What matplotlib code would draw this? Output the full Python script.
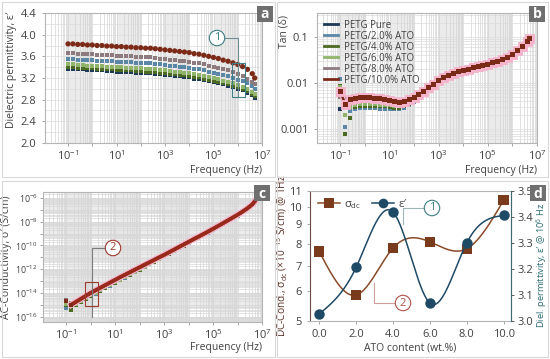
import numpy as np
import matplotlib
matplotlib.use('Agg')
import matplotlib.pyplot as plt
import matplotlib.patheffects as pe
from matplotlib.ticker import FixedLocator, FuncFormatter, LogLocator, NullFormatter, NullLocator
from matplotlib.patches import Rectangle
from matplotlib.lines import Line2D

plt.rcParams['font.family'] = ['Open Sans', 'DejaVu Sans']
plt.rcParams['mathtext.fontset'] = 'custom'
plt.rcParams['mathtext.rm'] = 'Open Sans'
plt.rcParams['mathtext.it'] = 'Open Sans:italic'
plt.rcParams['mathtext.default'] = 'regular'

# ---- data -------------------------------------------------------------
freq = [0.1, 0.158, 0.251, 0.398, 0.631, 1.0, 1.58, 2.51, 3.98, 6.31,
        10, 15.8, 25.1, 39.8, 63.1, 100, 158, 251, 398, 631,
        1e3, 1.58e3, 2.51e3, 3.98e3, 6.31e3, 1e4, 1.58e4, 2.51e4, 3.98e4, 6.31e4,
        1e5, 1.58e5, 2.51e5, 3.98e5, 6.31e5, 1e6, 1.58e6, 2.51e6, 3.98e6, 5.0e6]

labels = ['PETG Pure', 'PETG/2.0% ATO', 'PETG/4.0% ATO',
          'PETG/6.0% ATO', 'PETG/8.0% ATO', 'PETG/10.0% ATO']
colors = ['#1d3a56', '#5b87a6', '#4d6a22', '#8fb46a', '#8d7b80', '#7c2a18']

# dielectric permittivity eps'
eps_0 = [3.37, 3.37, 3.36, 3.36, 3.35, 3.35, 3.34, 3.34, 3.33, 3.33, 3.32, 3.32, 3.31, 3.31, 3.30, 3.30, 3.29, 3.29, 3.28, 3.27,
         3.26, 3.25, 3.24, 3.23, 3.22, 3.21, 3.19, 3.18, 3.16, 3.14, 3.12, 3.10, 3.08, 3.05, 3.03, 3.00, 2.97, 2.93, 2.89, 2.84]
eps_2 = [3.55, 3.55, 3.54, 3.54, 3.53, 3.53, 3.52, 3.52, 3.51, 3.51, 3.50, 3.50, 3.49, 3.49, 3.48, 3.48, 3.47, 3.47, 3.46, 3.45,
         3.44, 3.43, 3.42, 3.41, 3.40, 3.39, 3.37, 3.36, 3.34, 3.32, 3.30, 3.28, 3.25, 3.23, 3.20, 3.17, 3.14, 3.10, 3.05, 3.00]
eps_4 = [3.40, 3.40, 3.39, 3.39, 3.38, 3.38, 3.37, 3.37, 3.36, 3.36, 3.35, 3.35, 3.34, 3.34, 3.33, 3.33, 3.32, 3.32, 3.31, 3.30,
         3.29, 3.28, 3.27, 3.26, 3.25, 3.24, 3.22, 3.21, 3.19, 3.17, 3.15, 3.13, 3.11, 3.08, 3.06, 3.03, 3.00, 2.96, 2.91, 2.86]
eps_6 = [3.45, 3.45, 3.44, 3.44, 3.43, 3.43, 3.42, 3.42, 3.41, 3.41, 3.40, 3.40, 3.39, 3.39, 3.38, 3.38, 3.37, 3.37, 3.36, 3.35,
         3.34, 3.33, 3.32, 3.31, 3.30, 3.29, 3.27, 3.26, 3.24, 3.22, 3.20, 3.18, 3.15, 3.13, 3.10, 3.07, 3.04, 3.00, 2.95, 2.90]
eps_8 = [3.66, 3.66, 3.65, 3.65, 3.64, 3.64, 3.63, 3.63, 3.62, 3.62, 3.61, 3.61, 3.60, 3.60, 3.59, 3.59, 3.58, 3.58, 3.57, 3.56,
         3.55, 3.54, 3.53, 3.52, 3.51, 3.50, 3.48, 3.47, 3.45, 3.43, 3.41, 3.39, 3.36, 3.34, 3.31, 3.28, 3.24, 3.19, 3.13, 3.08]
eps_10 = [3.83, 3.83, 3.82, 3.82, 3.81, 3.81, 3.80, 3.80, 3.79, 3.79, 3.78, 3.78, 3.77, 3.77, 3.76, 3.76, 3.75, 3.75, 3.74, 3.73,
          3.72, 3.71, 3.70, 3.69, 3.68, 3.67, 3.65, 3.64, 3.62, 3.60, 3.58, 3.56, 3.53, 3.51, 3.48, 3.45, 3.41, 3.36, 3.28, 3.20]

# loss tangent
tan_0 = [0.0027, 0.0045, 0.0031, 0.0032, 0.0033, 0.0033, 0.0033, 0.0032, 0.0032, 0.0031, 0.0030, 0.0029, 0.0029, 0.0030, 0.0034,
         0.0040, 0.0048, 0.0059, 0.0071, 0.0086, 0.0104, 0.0122, 0.0140, 0.0155, 0.0168, 0.0180, 0.0191, 0.0204, 0.0218, 0.0234,
         0.0250, 0.0268, 0.0288, 0.0314, 0.0349, 0.0399, 0.0486, 0.0613, 0.0779, 0.0899]
tan_2 = [0.0125, 0.0011, 0.0025, 0.0028, 0.0029, 0.0029, 0.0029, 0.0029, 0.0028, 0.0028, 0.0027, 0.0027, 0.0027, 0.0029, 0.0033,
         0.0039, 0.0047, 0.0058, 0.0070, 0.0085, 0.0103, 0.0121, 0.0139, 0.0154, 0.0167, 0.0179, 0.0190, 0.0203, 0.0217, 0.0233,
         0.0249, 0.0267, 0.0287, 0.0313, 0.0348, 0.0398, 0.0485, 0.0612, 0.0778, 0.0898]
tan_4 = [0.0085, 0.00078, 0.0017, 0.0030, 0.0032, 0.0032, 0.0032, 0.0032, 0.0031, 0.0031, 0.0030, 0.0029, 0.0029, 0.0031, 0.0035,
         0.0041, 0.0049, 0.0060, 0.0072, 0.0087, 0.0105, 0.0123, 0.0141, 0.0156, 0.0169, 0.0181, 0.0192, 0.0205, 0.0219, 0.0235,
         0.0251, 0.0269, 0.0289, 0.0315, 0.0350, 0.0400, 0.0488, 0.0615, 0.0780, 0.0900]
tan_6 = [0.0080, 0.0020, 0.0030, 0.0034, 0.0035, 0.0035, 0.0035, 0.0035, 0.0034, 0.0034, 0.0033, 0.0032, 0.0031, 0.0033, 0.0037,
         0.0043, 0.0051, 0.0062, 0.0074, 0.0089, 0.0107, 0.0125, 0.0143, 0.0158, 0.0171, 0.0183, 0.0194, 0.0207, 0.0221, 0.0237,
         0.0253, 0.0271, 0.0291, 0.0317, 0.0352, 0.0402, 0.0490, 0.0620, 0.0785, 0.0905]
tan_8 = [0.0050, 0.0045, 0.0043, 0.0042, 0.0042, 0.0042, 0.0042, 0.0041, 0.0040, 0.0039, 0.0037, 0.0035, 0.0034, 0.0035, 0.0040,
         0.0046, 0.0054, 0.0064, 0.0076, 0.0091, 0.0109, 0.0127, 0.0145, 0.0160, 0.0173, 0.0185, 0.0196, 0.0209, 0.0223, 0.0239,
         0.0255, 0.0273, 0.0293, 0.0319, 0.0355, 0.0405, 0.0495, 0.0625, 0.0790, 0.0910]
tan_10 = [0.0065, 0.0035, 0.0045, 0.0047, 0.0048, 0.0048, 0.0048, 0.0047, 0.0046, 0.0044, 0.0042, 0.0039, 0.0038, 0.0039, 0.0043,
          0.0049, 0.0057, 0.0067, 0.0079, 0.0094, 0.0112, 0.0130, 0.0148, 0.0163, 0.0176, 0.0188, 0.0199, 0.0212, 0.0226, 0.0242,
          0.0258, 0.0276, 0.0296, 0.0322, 0.0358, 0.0410, 0.0500, 0.0630, 0.0800, 0.0920]

# AC conductivity, log10(S/cm)
sig_0 = [-15.1, -15.2, -14.98, -14.76, -14.52, -14.27, -14.04, -13.82, -13.6, -13.37, -13.15, -12.93, -12.71, -12.49, -12.27,
         -12.04, -11.81, -11.59, -11.37, -11.15, -10.93, -10.7, -10.47, -10.24, -10.02, -9.8, -9.58, -9.36, -9.14, -8.92,
         -8.69, -8.46, -8.22, -7.98, -7.73, -7.48, -7.22, -6.94, -6.61, -6.36]
sig_2 = [-15.3, -15.3, -15.0, -14.78, -14.53, -14.28, -14.05, -13.83, -13.6, -13.38, -13.16, -12.94, -12.72, -12.5, -12.27,
         -12.04, -11.81, -11.59, -11.37, -11.15, -10.93, -10.7, -10.47, -10.24, -10.02, -9.8, -9.58, -9.36, -9.14, -8.92,
         -8.69, -8.46, -8.22, -7.98, -7.73, -7.48, -7.22, -6.94, -6.61, -6.36]
sig_4 = [-15.0, -15.4, -15.05, -14.75, -14.5, -14.25, -14.03, -13.8, -13.58, -13.36, -13.14, -12.92, -12.7, -12.48, -12.26,
         -12.03, -11.8, -11.58, -11.36, -11.14, -10.92, -10.69, -10.46, -10.23, -10.01, -9.79, -9.57, -9.35, -9.13, -8.91,
         -8.68, -8.45, -8.21, -7.97, -7.72, -7.47, -7.21, -6.93, -6.6, -6.35]
sig_6 = [-14.9, -15.1, -14.95, -14.7, -14.45, -14.2, -13.98, -13.76, -13.54, -13.32, -13.1, -12.88, -12.66, -12.44, -12.22,
         -12.0, -11.78, -11.56, -11.34, -11.12, -10.9, -10.67, -10.45, -10.22, -10.0, -9.78, -9.56, -9.34, -9.12, -8.9,
         -8.67, -8.44, -8.2, -7.96, -7.71, -7.46, -7.2, -6.92, -6.59, -6.34]
sig_8 = [-14.6, -14.85, -14.8, -14.58, -14.33, -14.08, -13.86, -13.64, -13.42, -13.2, -12.98, -12.76, -12.55, -12.34, -12.12,
         -11.9, -11.69, -11.48, -11.26, -11.05, -10.84, -10.62, -10.4, -10.18, -9.96, -9.74, -9.52, -9.3, -9.08, -8.86,
         -8.63, -8.4, -8.16, -7.92, -7.68, -7.44, -7.18, -6.9, -6.57, -6.32]
sig_10 = [-14.7, -15.0, -14.75, -14.5, -14.25, -14.0, -13.78, -13.56, -13.34, -13.12, -12.9, -12.68, -12.47, -12.26, -12.05,
          -11.84, -11.63, -11.42, -11.21, -11.0, -10.8, -10.58, -10.36, -10.14, -9.92, -9.7, -9.48, -9.27, -9.05, -8.83,
          -8.6, -8.37, -8.14, -7.9, -7.66, -7.42, -7.16, -6.88, -6.55, -6.3]

# panel d
ato = [0.0, 2.0, 4.0, 6.0, 8.0, 10.0]
sigma_dc = [7.62, 5.85, 7.78, 8.08, 7.75, 10.4]
eps_1MHz = [3.027, 3.206, 3.419, 3.069, 3.30, 3.406]

eps_all = [eps_0, eps_2, eps_4, eps_6, eps_8, eps_10]
tan_all = [tan_0, tan_2, tan_4, tan_6, tan_8, tan_10]
sig_all = [sig_0, sig_2, sig_4, sig_6, sig_8, sig_10]

W, H = 550, 359
TXT = '#404040'
SPINE = '#b5b5b5'
PINK = '#f6b3cc'


def spline(x, y, n=300):
    # natural cubic spline for the smooth connecting curves of panel d
    x = np.asarray(x, float)
    y = np.asarray(y, float)
    h = np.diff(x)
    m = len(x)
    A = np.zeros((m, m))
    r = np.zeros(m)
    A[0, 0] = A[-1, -1] = 1
    for i in range(1, m - 1):
        A[i, i - 1] = h[i - 1]
        A[i, i] = 2 * (h[i - 1] + h[i])
        A[i, i + 1] = h[i]
        r[i] = 6 * ((y[i + 1] - y[i]) / h[i] - (y[i] - y[i - 1]) / h[i - 1])
    M = np.linalg.solve(A, r)
    xs = np.linspace(x[0], x[-1], n)
    k = np.clip(np.searchsorted(x, xs) - 1, 0, m - 2)
    t1 = x[k + 1] - xs
    t0 = xs - x[k]
    ys = (M[k] * t1 ** 3 + M[k + 1] * t0 ** 3) / (6 * h[k]) \
        + (y[k] / h[k] - M[k] * h[k] / 6) * t1 + (y[k + 1] / h[k] - M[k + 1] * h[k] / 6) * t0
    return xs, ys


fig = plt.figure(figsize=(5.5, 3.59), dpi=100)

ax_a = fig.add_axes([45 / W, 1 - 143 / H, 217 / W, 130 / H])
ax_b = fig.add_axes([317 / W, 1 - 143 / H, 220 / W, 130 / H])
ax_c = fig.add_axes([43 / W, 1 - 322 / H, 219 / W, 130 / H])
ax_d = fig.add_axes([310 / W, 1 - 321 / H, 201 / W, 130 / H])


def style(ax):
    for s in ax.spines.values():
        s.set_color(SPINE)
        s.set_linewidth(0.8)
    ax.tick_params(labelsize=8, colors=TXT, length=2.5, width=0.6)
    ax.tick_params(which='both', color='#999999')
    ax.set_axisbelow(True)


def freq_axis(ax, label_y):
    ax.set_xscale('log')
    ax.set_xlim(10 ** -1.95, 1e7)
    ax.xaxis.set_major_locator(FixedLocator(10.0 ** np.arange(-1, 8)))
    ax.xaxis.set_major_formatter(FuncFormatter(
        lambda v, p: '$10^{%d}$' % round(np.log10(v)) if round(np.log10(v)) % 2 else ''))
    ax.xaxis.set_minor_locator(LogLocator(base=10, subs=np.arange(2, 10), numticks=100))
    ax.xaxis.set_minor_formatter(NullFormatter())
    ax.tick_params(axis='x', which='minor', length=0)
    for k in (-1, 1, 3, 5):
        ax.axvspan(10.0 ** k, 10.0 ** (k + 1), color='#ebebeb', lw=0, zorder=0)
    ax.grid(True, which='both', axis='x', color='#d4d4d4', lw=0.5)
    style(ax)
    ax.tick_params(axis='x', which='major', pad=2)
    ax.set_xlabel('Frequency (Hz)', loc='right', fontsize=7.5, color=TXT)
    ax.xaxis.set_label_coords(1.0, label_y)


# ---- a: permittivity --------------------------------------------------
freq_axis(ax_a, -0.17)
ax_a.set_ylim(2.0, 4.4)
ax_a.yaxis.set_major_locator(FixedLocator(np.arange(2.0, 4.41, 0.4)))
ax_a.yaxis.set_major_formatter(FuncFormatter(lambda v, p: '%.1f' % v))
ax_a.yaxis.set_minor_locator(FixedLocator(np.arange(2.2, 4.4, 0.4)))
ax_a.tick_params(axis='y', which='minor', length=0)
ax_a.grid(True, which='both', axis='y', color='#dcdcdc', lw=0.5)
for i, (vals, c) in enumerate(zip(eps_all, colors)):
    if i == 5:
        ax_a.plot(freq, vals, 'o', color=c, ms=3.8, mew=0, zorder=4,
                  path_effects=[pe.SimpleLineShadow(offset=(0, -4), shadow_color=PINK, alpha=0.9, rho=1),
                                pe.Normal()])
    else:
        ax_a.plot(freq, vals, 's', color=c, ms=3.3, mew=0, zorder=3)
ax_a.set_ylabel("Dielectric permittivity, ε′", fontsize=7.5, color=TXT)
ax_a.yaxis.set_label_coords(-0.13, 0.56)

# ---- b: tan delta -----------------------------------------------------
freq_axis(ax_b, -0.17)
ax_b.set_yscale('log')
ax_b.set_ylim(0.0005, 0.33)
ax_b.yaxis.set_major_locator(FixedLocator([0.001, 0.01, 0.1]))
ax_b.yaxis.set_major_formatter(FuncFormatter(lambda v, p: '%g' % v))
ax_b.yaxis.set_minor_locator(LogLocator(base=10, subs=np.arange(2, 10), numticks=100))
ax_b.yaxis.set_minor_formatter(NullFormatter())
ax_b.tick_params(axis='y', which='minor', length=0)
ax_b.grid(True, which='both', axis='y', color='#dcdcdc', lw=0.5)
for i, (vals, c) in enumerate(zip(tan_all, colors)):
    if i == 5:
        ax_b.plot(freq, vals, 's-', color=c, ms=3.6, mew=0, lw=1.5, zorder=4,
                  path_effects=[pe.withStroke(linewidth=3.5, foreground=PINK), pe.Normal()])
    else:
        ax_b.plot(freq, vals, 's', color=c, ms=3.3, mew=0, zorder=3)
ax_b.set_ylabel('Tan (δ)', fontsize=7.5, color=TXT)
ax_b.yaxis.set_label_coords(-0.123, 0.86)
handles = [Line2D([], [], color=c, lw=2) for c in colors]
ax_b.legend(handles, labels, loc='upper left', bbox_to_anchor=(0.0, 1.0), frameon=False,
            fontsize=6.9, handlelength=1.5, handletextpad=0.6, labelspacing=0.0,
            borderaxespad=0.3, labelcolor=TXT)

# ---- c: AC conductivity -----------------------------------------------
freq_axis(ax_c, -0.155)
ax_c.set_yscale('log')
ax_c.set_ylim(10 ** -16.45, 10 ** -5.5)
ax_c.yaxis.set_major_locator(FixedLocator(10.0 ** np.arange(-17, -4)))
ax_c.yaxis.set_major_formatter(FuncFormatter(
    lambda v, p: '' if round(np.log10(v)) % 2 else '$10^{%d}$' % round(np.log10(v))))
ax_c.yaxis.set_minor_locator(LogLocator(base=10, subs=np.arange(2, 10), numticks=100))
ax_c.yaxis.set_minor_formatter(NullFormatter())
ax_c.tick_params(axis='y', which='minor', length=0)
ax_c.tick_params(axis='y', which='major', labelsize=6.3, pad=1.5)
for k in range(-17, -5, 2):
    ax_c.axhspan(10.0 ** k, 10.0 ** (k + 1), color='#e4e4e4', lw=0, zorder=0, alpha=0.7)
ax_c.grid(True, which='both', axis='y', color='#d8d8d8', lw=0.5)
for i, (vals, c) in enumerate(zip(sig_all, colors)):
    sv = 10.0 ** np.array(vals)
    if i == 5:
        ax_c.plot(freq[1:], sv[1:], '-', color='#982a1c', lw=2.6, zorder=4,
                  path_effects=[pe.withStroke(linewidth=4.5, foreground=PINK), pe.Normal()])
        ax_c.plot(freq[:2], sv[:2], 's', color=c, ms=3.3, mew=0, zorder=4)
    else:
        ax_c.plot(freq, sv, 's', color=c, ms=3.3, mew=0, zorder=3)
ax_c.set_ylabel("AC-Conductivity, σ′ (S/cm)", fontsize=7.5, color=TXT)
ax_c.yaxis.set_label_coords(-0.14, 0.5)

# ---- d: DC conductivity and eps' vs ATO --------------------------------
BR = '#7a3a1c'
TE = '#1f4a66'
style(ax_d)
ax_d.set_yscale('log')
ax_d.set_ylim(5, 11)
ax_d.set_xlim(-0.5, 10.4)
ax_d.xaxis.set_major_locator(FixedLocator(ato))
ax_d.xaxis.set_major_formatter(FuncFormatter(lambda v, p: '%.1f' % v))
ax_d.yaxis.set_major_locator(FixedLocator([5, 6, 7, 8, 9, 10, 11]))
ax_d.yaxis.set_major_formatter(FuncFormatter(lambda v, p: '%d' % v))
ax_d.yaxis.set_minor_locator(NullLocator())
ax_d.spines['left'].set_color('#6a4a40')
xs, ys = spline(ato, np.log10(sigma_dc))
ax_d.plot(xs, 10 ** ys, color='#8a4a28', lw=1.1, zorder=2)
ax_d.plot(ato, sigma_dc, 's', color=BR, ms=7.5, mew=0, zorder=3,
          path_effects=[pe.SimpleLineShadow(offset=(1.5, -1.5), shadow_color=PINK, alpha=0.9, rho=1),
                        pe.Normal()])
ax_d.set_ylabel(r'DC-Cond., σ$_{dc}$ (×10$^{-15}$ S/cm) @ 1Hz', fontsize=7.3, color='#5a2e22')
ax_d.yaxis.set_label_coords(-0.10, 0.5)
ax_d.set_xlabel('ATO content (wt.%)', fontsize=7.5, color=TXT)
ax_d.xaxis.set_label_coords(0.5, -0.165)

ax_e = ax_d.twinx()
ax_e.set_ylim(3.0, 3.5)
ax_e.yaxis.set_major_locator(FixedLocator([3.0, 3.1, 3.2, 3.3, 3.4, 3.5]))
ax_e.yaxis.set_major_formatter(FuncFormatter(lambda v, p: '%.1f' % v))
for s in ax_e.spines.values():
    s.set_visible(False)
ax_e.spines['right'].set_visible(True)
ax_e.spines['right'].set_color('#3f6a72')
ax_e.tick_params(labelsize=8, colors=TXT, length=2.5, width=0.6, pad=2)
xs, ys = spline(ato, eps_1MHz)
ax_e.plot(xs, ys, color=TE, lw=1.1, zorder=2)
ax_e.plot(ato, eps_1MHz, 'o', color=TE, ms=7.5, mew=0, zorder=3)
ax_e.set_ylabel("Diel. permittivity, ε′ @ 10$^{6}$ Hz", fontsize=6.7, color='#2b6a72')
ax_e.yaxis.set_label_coords(1.115, 0.43)

leg_h = [Line2D([], [], color='#8a4a28', lw=1.1, marker='s', ms=7, mfc=BR, mew=0),
         Line2D([], [], color=TE, lw=1.1, marker='o', ms=7, mfc=TE, mew=0)]
ax_d.legend(leg_h, ['σ$_{dc}$', 'ε′'], loc='upper left', ncol=2, frameon=False, fontsize=8,
            handlelength=2.0, handletextpad=0.4, columnspacing=0.9, borderaxespad=0.3,
            labelcolor=TXT)


# ---- figure decorations ----------------------------------------------
def P(x, y):
    return x / W, 1 - y / H


for x0, y0, x1, y1 in [(2, 2, 275, 177), (277, 2, 548, 177), (2, 181, 275, 357), (277, 181, 548, 357)]:
    fig.add_artist(Rectangle(P(x0, y1), (x1 - x0) / W, (y1 - y0) / H, transform=fig.transFigure,
                             fill=False, ec='#d8d8d8', lw=0.8))

for lab, (cx, cy) in zip('abcd', [(265, 14), (537, 14), (262, 193), (538, 193)]):
    fig.add_artist(Rectangle(P(cx - 8, cy + 8), 16 / W, 16 / H, transform=fig.transFigure,
                             fc='#6f6f6f', ec='none', zorder=10))
    fig.text(*P(cx, cy + 0.5), lab, ha='center', va='center', color='white', fontsize=10,
             fontweight='bold', zorder=11)


def callout(num, circ, pts, color, lcolor, rect=None):
    xs_, ys_ = zip(*[P(x, y) for x, y in pts])
    fig.add_artist(Line2D(xs_, ys_, transform=fig.transFigure, color=lcolor, lw=0.8, zorder=8))
    if rect is not None:
        x0, y0, x1, y1 = rect
        fig.add_artist(Rectangle(P(x0, y1), (x1 - x0) / W, (y1 - y0) / H, transform=fig.transFigure,
                                 fill=False, ec=color, lw=0.8, zorder=8))
    fig.text(*P(*circ), num, ha='center', va='center', fontsize=8, color=color, zorder=9,
             bbox=dict(boxstyle='circle,pad=0.2', fc='white', ec=color, lw=0.8))


callout('1', (217, 38), [(224, 38), (238, 38), (238, 97)], '#3e7f86', '#6f8f94', (232, 63, 245, 97))
callout('2', (113, 248), [(106, 248), (92, 248), (92, 317)], '#9c3b2e', '#7a7a7a', (85, 282, 98, 306))
callout('1', (432, 208), [(425, 208), (403, 208), (403, 224)], '#3e7f86', '#9fb5b8')
callout('2', (403, 303), [(396, 303), (374, 303), (374, 283)], '#b0524a', '#d0a0a0')

fig.savefig('out.png', dpi=100)
